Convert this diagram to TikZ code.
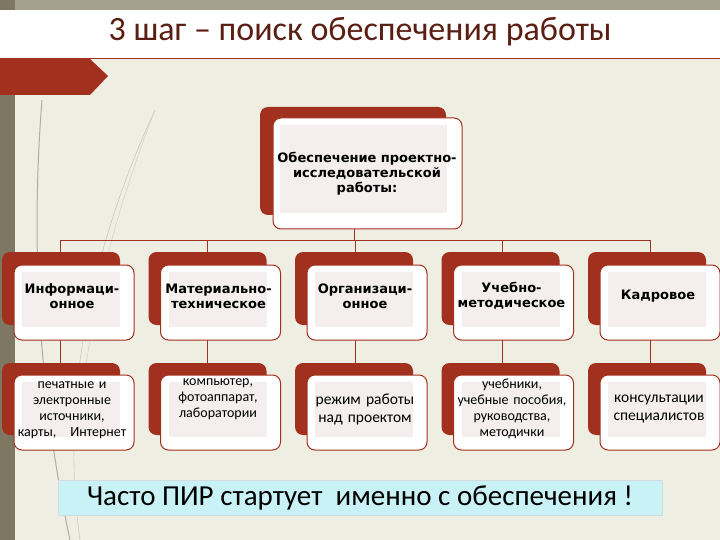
\documentclass[tikz,border=0pt]{standalone}
\usepackage{fontspec}
\setmainfont{Carlito}
\newfontfamily\boldlab{DejaVu Sans}
\begin{document}
\begin{tikzpicture}[x=1pt,y=-1pt,
  back/.style={fill=dred,rounded corners=8pt},
  front/.style={fill=white,draw=dred,line width=1pt,rounded corners=8pt},
  bus/.style={draw=dred,line width=0.8pt},
  lab/.style={font=\boldlab\bfseries\fontsize{13}{15}\selectfont,align=center,text width=116pt},
  sub/.style={align=center,text width=124pt}]
\definecolor{dred}{HTML}{A2301E}
\definecolor{bg}{HTML}{EEEEE2}
\definecolor{stripe}{HTML}{7E7761}
\definecolor{ttl}{HTML}{5A1E12}
\definecolor{cyanbox}{HTML}{C8F2F6}
\definecolor{inner}{HTML}{F4EEEE}
\useasboundingbox (0,0) rectangle (720,540);
\fill[bg] (0,0) rectangle (720,540);
\fill[stripe!70] (0,0) rectangle (720,10);
\fill[stripe] (0,0) rectangle (15,540);
% grass
\draw[stripe!60,line width=1pt] (42,100) .. controls (30,250) and (40,400) .. (70,540);
\draw[stripe!40,line width=0.6pt] (155,110) .. controls (90,250) and (60,400) .. (80,540);
\draw[stripe!35,line width=0.5pt] (155,110) .. controls (120,200) and (90,300) .. (80,420);
% title
\fill[white] (0,10) rectangle (720,58);
\draw[dred,line width=0.8pt] (0,58) -- (720,58);
\node[font=\fontsize{34}{38}\selectfont,text=ttl] (title) at (360,32) {3 шаг – поиск обеспечения работы};
\fill[dred] (0,59) -- (90,59) -- (108,76) -- (90,95) -- (0,95) -- cycle;
% top box
\fill[back] (260,107) rectangle (446,215);
\draw[front] (273,118) rectangle (462,229);
\fill[inner] (280,125) rectangle (447,213);
\node[lab,text width=180pt] (top) at (367,174) {Обеспечение проектно-\\исследовательской\\работы:};
% bus
\coordinate (bt) at (354,229);
\coordinate (bb) at (354,240);
\draw[bus] (bt) -- (bb);
\draw[bus] (60,240) -- (650,240);
\foreach \i/\a in {0/{Информаци-\\онное},1/{Материально-\\техническое},2/{Организаци-\\онное},3/{Учебно-\\методическое},4/{Кадровое}}{
  \pgfmathsetmacro{\x}{2+146.5*\i}
  \pgfmathsetmacro{\c}{60+147.5*\i}
  \draw[bus] (\c,240) -- (\c,265);
  \draw[bus] (\c,340) -- (\c,375);
  \fill[back] (\x,252) rectangle ++(118,73);
  \draw[front] (\x+12,265) rectangle ++(120,75);
  \fill[inner] (\x+20,272) rectangle ++(98,55);
  \node[lab] (h\i) at (\x+70,296) {\a};
  \fill[back] (\x,363) rectangle ++(118,72);
  \draw[front] (\x+12,375) rectangle ++(120,75);
  \fill[inner] (\x+20,382) rectangle ++(98,55);
}
\node[sub,font=\fontsize{14}{16}\selectfont] (s0) at (72,410) {печатные и\\электронные\\источники,\\карты,\ \ \ Интернет};
\node[sub,font=\fontsize{14}{16}\selectfont] (s1) at (218,399) {компьютер,\\фотоаппарат,\\лаборатории};
\node[sub,font=\fontsize{15.5}{18}\selectfont] (s2) at (365,409) {режим работы\\над проектом};
\node[sub,font=\fontsize{14}{16}\selectfont] (s3) at (512,409) {учебники,\\учебные пособия,\\руководства,\\методички};
\node[sub,font=\fontsize{15.5}{18}\selectfont] (s4) at (659,409) {консультации\\специалистов};
% bottom
\draw[fill=cyanbox,draw=cyanbox!70!black!40] (58,480) rectangle (662,515);
\node[font=\fontsize{29}{32}\selectfont] (note) at (360,498) {Часто ПИР стартует \ именно с обеспечения !};
\end{tikzpicture}
\end{document}
